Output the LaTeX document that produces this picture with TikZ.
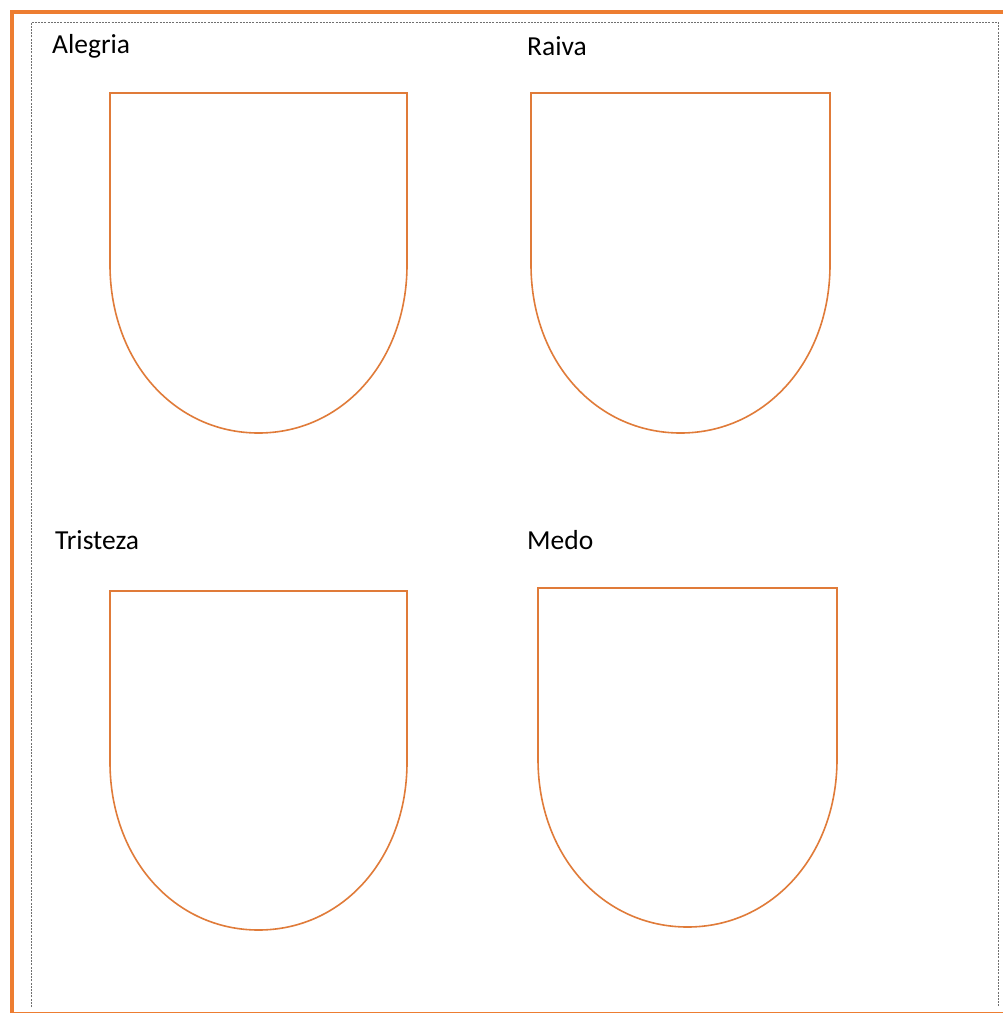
\documentclass[tikz,border=0pt]{standalone}
\usepackage{fontspec}
\setmainfont{Carlito}
\definecolor{frameorange}{HTML}{ED7D31}
\definecolor{shieldorange}{HTML}{E07B39}
\definecolor{dashgrey}{HTML}{707070}
\tikzset{
  shield/.style={draw=shieldorange, line width=1.6pt, line join=miter},
  lbl/.style={font=\fontsize{27.5}{33}\selectfont, anchor=west, inner sep=0pt},
}
\newcommand{\shieldat}[4]{% left, right, top, bottom
  \pgfmathsetmacro{\cx}{(#1+#2)/2}
  \pgfmathsetmacro{\rx}{(#2-#1)/2}
  \pgfmathsetmacro{\ry}{0.495*(#4-#3)}
  \pgfmathsetmacro{\yc}{#4-\ry}
  \pgfmathsetmacro{\kx}{0.57*\rx}
  \pgfmathsetmacro{\ky}{0.57*\ry}
  \draw[shield] (#1,\yc) -- (#1,#3) -- (#2,#3) -- (#2,\yc)
    .. controls (#2,\yc+\ky) and (\cx+\kx,#4) .. (\cx,#4)
    .. controls (\cx-\kx,#4) and (#1,\yc+\ky) .. (#1,\yc);
}
\begin{document}
\begin{tikzpicture}[x=1pt,y=-1pt]
\useasboundingbox (0,0) rectangle (1003,1014);
\fill[white] (0,0) rectangle (1003,1014);
% outer orange frame
\draw[frameorange, line width=4.5pt] (12,1013) -- (12,12) -- (1003,12);
\draw[frameorange, line width=1.5pt] (12,1012.5) -- (1003,1012.5);
% inner dashed frame
\draw[dashgrey, line width=0.9pt, dash pattern=on 2pt off 1.2pt]
  (31,1007) -- (31,22) -- (998,22) -- (998,1007);
% labels
\node[lbl] (alegria) at (52,46) {Alegria};
\node[lbl] (raiva) at (527,46) {Raiva};
\node[lbl] (tristeza) at (55,540) {Tristeza};
\node[lbl] (medo) at (527,540) {Medo};
% shields
\shieldat{110}{407}{93}{433}
\shieldat{531}{830}{93}{433}
\shieldat{110}{407}{591}{930}
\shieldat{538}{837}{588}{927}
\end{tikzpicture}
\end{document}
